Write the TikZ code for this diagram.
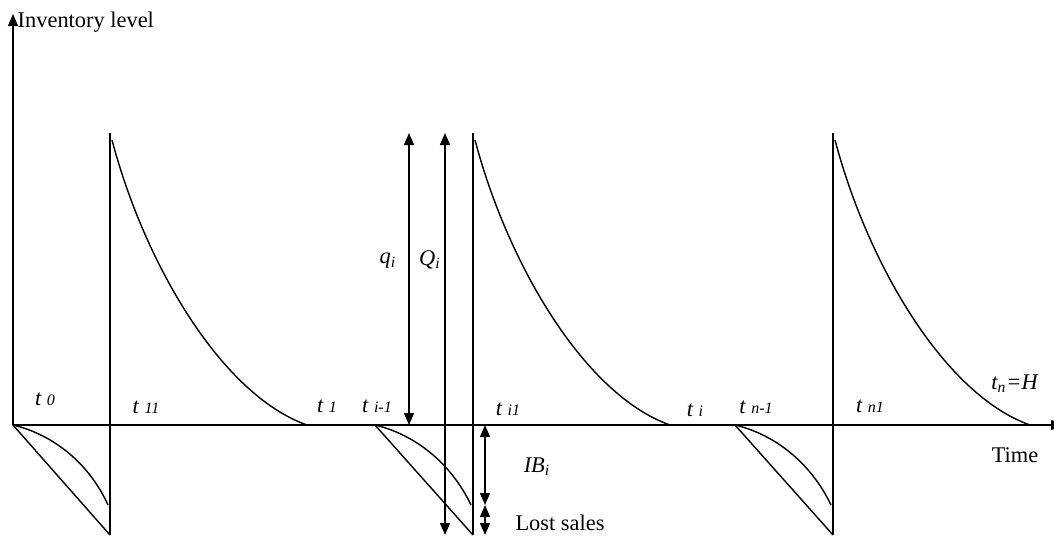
\documentclass[tikz,border=0pt]{standalone}
\usepackage{fontspec}
\setmainfont{Liberation Serif}
\usetikzlibrary{arrows.meta}
\newcommand{\tlab}[2]{\textit{#1 {\fontsize{8}{9}\selectfont #2}}}

\begin{document}
\begin{tikzpicture}[x=0.5pt,y=-0.5pt,line width=0.7pt,
  >={Triangle[width=5pt,length=6pt]},
  lbl/.style={inner sep=0pt,font=\fontsize{11.2}{13}\selectfont}]
\useasboundingbox (0,0) rectangle (1054,536);
% axes
\coordinate (O) at (13,425);
\coordinate (ytop) at (13,14);
\coordinate (xend) at (1063,425);
\draw[->] (O)--(ytop);
\draw[->] (O)--(xend);
\node[lbl,anchor=west] (ylab) at (17,22) {Inventory level};
\node[lbl] (xlab) at (1015,455) {Time};
% cycles: shortage part, order, decay part
\foreach \s/\e in {13/110,375/473,735/833}{
  \draw (\s,425)--(\e,535);
  \draw (\s,425) .. controls (\s+42,435) and (\s+77,465) .. (\e-2,505);
  \draw (\e,133)--(\e,535);
  \draw (\e+2,140) .. controls (\e+35,265) and (\e+112,395) .. (\e+197,425);
}
% time points
\node[lbl] (t0) at (45,399) {\tlab{t}{0}};
\node[lbl] (t11) at (146,407) {\tlab{t}{11}};
\node[lbl] (t1) at (327,406) {\tlab{t}{1}};
\node[lbl] (tim) at (377,406) {\tlab{t}{i-1}};
\node[lbl] (ti1) at (508,409) {\tlab{t}{i1}};
\node[lbl] (ti) at (695,410) {\tlab{t}{i}};
\node[lbl] (tnm) at (756,407) {\tlab{t}{n-1}};
\node[lbl] (tn1) at (870,406) {\tlab{t}{n1}};
\node[lbl] (tnH) at (1015,384) {\textit{t\textsubscript{n}=H}};
% quantities
\coordinate (qtop) at (409,133);
\coordinate (qbot) at (409,425);
\coordinate (Qtop) at (445,133);
\coordinate (Qbot) at (445,535);
\coordinate (IBtop) at (485,425);
\coordinate (IBbot) at (485,505);
\coordinate (LSbot) at (485,535);
\draw[<->] (qbot)--(qtop);
\draw[<->] (Qbot)--(Qtop);
\draw[<->] (IBtop)--(IBbot);
\draw[<->] (IBbot)--(LSbot);
\node[lbl] (q) at (388,261) {\textit{q\textsubscript{i}}};
\node[lbl] (Q) at (430,260) {\textit{Q\textsubscript{i}}};
\node[lbl] (IB) at (537,467) {\textit{IB\textsubscript{i}}};
\node[lbl] (LS) at (560,523) {Lost sales};
\end{tikzpicture}
\end{document}
